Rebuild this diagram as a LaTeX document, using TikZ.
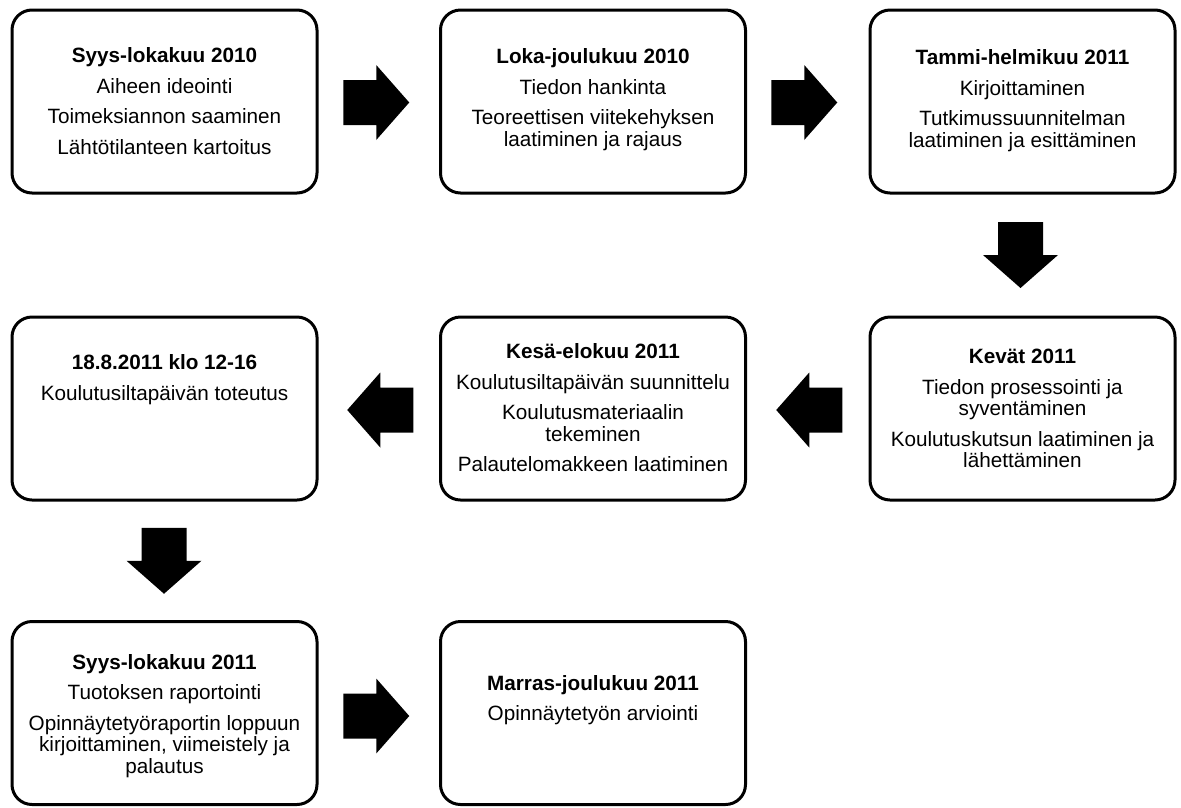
\documentclass[tikz,border=0pt]{standalone}
\usepackage{fontspec}
\setmainfont{Liberation Sans}
\usetikzlibrary{calc}
\begin{document}
\begin{tikzpicture}[x=1pt,y=-1pt,
  box/.style={draw=black, line width=3pt, rounded corners=20pt, fill=white,
    minimum width=305pt, minimum height=183pt, inner sep=0pt},
  txt/.style={anchor=north, inner sep=0pt, align=center,
    font=\fontsize{20.7}{21.5}\selectfont},
  blockarrow/.pic={\fill[black] (-33,-22.5) -- (0,-22.5) -- (0,-37.5) -- (33,0)
     -- (0,37.5) -- (0,22.5) -- (-33,22.5) -- cycle;}]
\useasboundingbox (0,0) rectangle (1181,807);
\fill[white] (0,0) rectangle (1181,807);

% boxes
\node[box] (b1) at (164.5,101.5) {};
\node[box] (b2) at (593,101.5) {};
\node[box] (b3) at (1022.5,101.5) {};
\node[box] (b4) at (1022.5,408.5) {};
\node[box] (b5) at (593,408.5) {};
\node[box] (b6) at (164.5,408.5) {};
\node[box] (b7) at (164.5,713) {};
\node[box] (b8) at (593,713) {};

% texts
\node[txt] (t1) at ($(b1.north)+(0,38)$) {\rule{0pt}{16pt}\textbf{Syys-lokakuu 2010}\\[9pt]
  Aiheen ideointi\\[9pt] Toimeksiannon saaminen\\[9pt] Lähtötilanteen kartoitus};
\node[txt] (t2) at ($(b2.north)+(0,39)$) {\rule{0pt}{16pt}\textbf{Loka-joulukuu 2010}\\[9pt]
  Tiedon hankinta\\[9pt] Teoreettisen viitekehyksen\\ laatiminen ja rajaus};
\node[txt] (t3) at ($(b3.north)+(0,40)$) {\rule{0pt}{16pt}\textbf{Tammi-helmikuu 2011}\\[9pt]
  Kirjoittaminen\\[9pt] Tutkimussuunnitelman\\ laatiminen ja esittäminen};
\node[txt] (t4) at ($(b4.north)+(0,32)$) {\rule{0pt}{16pt}\textbf{Kevät 2011}\\[9pt]
  Tiedon prosessointi ja\\ syventäminen\\[9pt] Koulutuskutsun laatiminen ja\\ lähettäminen};
\node[txt] (t5) at ($(b5.north)+(0,27)$) {\rule{0pt}{16pt}\textbf{Kesä-elokuu 2011}\\[9pt]
  Koulutusiltapäivän suunnittelu\\[9pt] Koulutusmateriaalin\\ tekeminen\\[9pt] Palautelomakkeen laatiminen};
\node[txt] (t6) at ($(b6.north)+(0,38)$) {\rule{0pt}{16pt}\textbf{18.8.2011 klo 12-16}\\[9pt]
  Koulutusiltapäivän toteutus};
\node[txt] (t7) at ($(b7.north)+(0,33)$) {\rule{0pt}{16pt}\textbf{Syys-lokakuu 2011}\\[9pt]
  Tuotoksen raportointi\\[9pt] Opinnäytetyöraportin loppuun\\ kirjoittaminen, viimeistely ja\\ palautus};
\node[txt] (t8) at ($(b8.north)+(0,54)$) {\rule{0pt}{16pt}\textbf{Marras-joulukuu 2011}\\[9pt]
  Opinnäytetyön arviointi};

% block arrows between boxes
\pic at ($(b1.east)!0.5!(b2.west)+(-2.5,1)$) {blockarrow};
\pic at ($(b2.east)!0.5!(b3.west)+(-3.5,1)$) {blockarrow};
\pic[rotate=-90] at ($(b3.south)!0.5!(b4.north)+(-2,0)$) {blockarrow};
\pic[rotate=180] at ($(b4.west)!0.5!(b5.east)+(1.5,1.5)$) {blockarrow};
\pic[rotate=180] at ($(b5.west)!0.5!(b6.east)+(1.5,1.5)$) {blockarrow};
\pic[rotate=-90] at ($(b6.south)!0.5!(b7.north)+(-0.5,0)$) {blockarrow};
\pic at ($(b7.east)!0.5!(b8.west)+(-2.5,3)$) {blockarrow};
\end{tikzpicture}
\end{document}
